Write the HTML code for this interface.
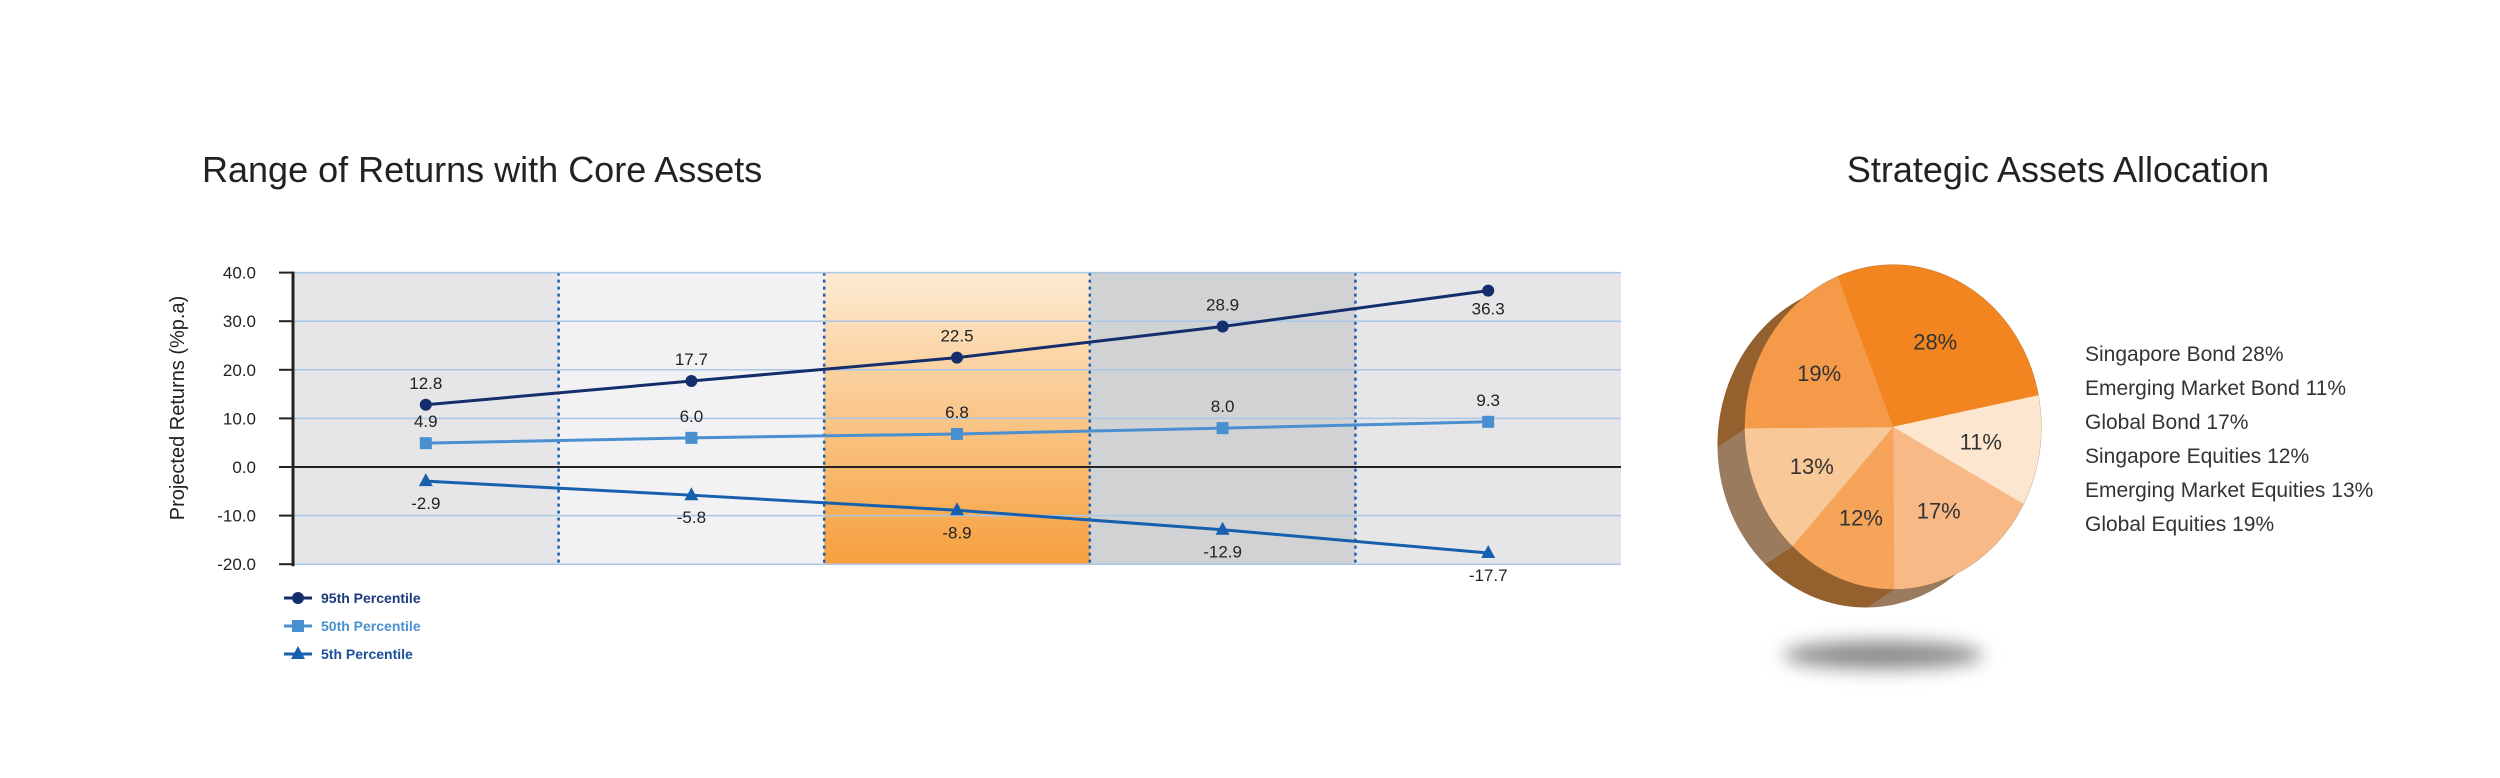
<!DOCTYPE html>
<html><head><meta charset="utf-8"><style>
body{margin:0;background:#fff;width:2500px;height:778px;overflow:hidden;font-family:"Liberation Sans",sans-serif}
svg{display:block}
</style></head><body>
<svg id="chart" width="2500" height="778" xmlns="http://www.w3.org/2000/svg">
<defs>
<linearGradient id="og" x1="0" y1="0" x2="0" y2="1"><stop offset="0" stop-color="#fdebd2"/><stop offset="1" stop-color="#f6a03e"/></linearGradient>
<filter id="blur" x="-50%" y="-200%" width="200%" height="500%"><feGaussianBlur stdDeviation="9"/></filter>
</defs>
<text x="202" y="182" font-size="36" fill="#222">Range of Returns with Core Assets</text>
<text x="2058" y="182" font-size="36" fill="#222" text-anchor="middle">Strategic Assets Allocation</text>
<g id="bg"></g><g id="grid"></g><g id="axes"></g><g id="series"></g><g id="legend"></g>
<g id="pie"></g>
</svg>
<script>
const categories = ["Period 1","Period 2","Period 3","Period 4","Period 5"];
const p95 = [12.8,17.7,22.5,28.9,36.3];
const p50 = [4.9,6.0,6.8,8.0,9.3];
const p5 = [-2.9,-5.8,-8.9,-12.9,-17.7];
const yTicks = [40,30,20,10,0,-10,-20];
const sliceLabels = ["Singapore Bond","Emerging Market Bond","Global Bond","Singapore Equities","Emerging Market Equities","Global Equities"];
const sliceValues = [28,11,17,12,13,19];

const NS="http://www.w3.org/2000/svg";
function mk(tag,attrs,parent,txt){const e=document.createElementNS(NS,tag);for(const k in attrs)e.setAttribute(k,attrs[k]);if(txt!==undefined)e.textContent=txt;parent.appendChild(e);return e;}
const X0=293,X1=1621,colW=(X1-X0)/categories.length;
const y=v=>467-v*4.86;
const x=i=>X0+colW*(i+0.5);
const bgC=["#e6e6e8","#f2f2f4","url(#og)","#d1d2d4","#e6e6e8"];
const gBg=document.getElementById('bg'),gGrid=document.getElementById('grid'),gAx=document.getElementById('axes'),gS=document.getElementById('series'),gL=document.getElementById('legend');
categories.forEach((c,i)=>{
 const r=mk('rect',{x:X0+colW*i,y:y(40),width:colW,height:y(-20)-y(40),fill:bgC[i]},gBg);
 
 
 if(i>0){const l=mk('line',{x1:X0+colW*i,x2:X0+colW*i,y1:y(40),y2:y(-20),stroke:'#1d5ca8','stroke-width':2.5,'stroke-dasharray':'3,4'},gBg);
 
 }
});
yTicks.forEach(t=>{
 const l=mk('line',{x1:X0,x2:X1,y1:y(t),y2:y(t),stroke:t===0?'#222':'#a9c8e8','stroke-width':t===0?2:1.5},gGrid);
 
 
 mk('line',{x1:279,x2:X0,y1:y(t),y2:y(t),stroke:'#222','stroke-width':2},gAx);
 const tx=mk('text',{x:256,y:y(t)+6,'font-size':17,'text-anchor':'end',fill:'#222'},gAx,t.toFixed(1));
 
 
});
mk('line',{x1:X0,x2:X0,y1:y(40)-1,y2:y(-20)+2,stroke:'#222','stroke-width':3},gAx);
const yt=mk('text',{x:0,y:0,'font-size':20,'text-anchor':'middle',fill:'#222',transform:'translate(184,408) rotate(-90)'},gAx,'Projected Returns (%p.a)');


function marker(type,cx,cy,col,g){
 if(type==='c')return mk('circle',{cx,cy,r:6,fill:col},g);
 if(type==='s')return mk('rect',{x:cx-6,y:cy-6,width:12,height:12,fill:col},g);
 return mk('polygon',{points:`${cx},${cy-8} ${cx+7},${cy+5} ${cx-7},${cy+5}`,fill:col},g);
}
const series=[{d:p95,c:'#142e6b',m:'c',n:'95th Percentile',tc:'#1b3a7a',lab:i=>i===4?24:-16},
 {d:p50,c:'#4a8fd0',m:'s',n:'50th Percentile',tc:'#4a8fd0',lab:i=>-16},
 {d:p5,c:'#1760ad',m:'t',n:'5th Percentile',tc:'#1a4f9a',lab:i=>28}];
series.forEach((s,si)=>{
 const pl=mk('polyline',{points:s.d.map((v,i)=>x(i)+','+y(v)).join(' '),fill:'none',stroke:s.c,'stroke-width':3},gS);
 
 
 s.d.forEach((v,i)=>{
  const m=marker(s.m,x(i),y(v),s.c,gS);
  
  
  const t=mk('text',{x:x(i),y:y(v)+s.lab(i),'font-size':17,'text-anchor':'middle',fill:'#222'},gS,v.toFixed(1));
  
  
 });
 const ly=598+si*28;
 mk('line',{x1:284,x2:312,y1:ly,y2:ly,stroke:s.c,'stroke-width':3},gL);
 marker(s.m,298,ly,s.c,gL);
 const lt=mk('text',{x:321,y:ly+5,'font-size':14,'font-weight':'bold',fill:s.tc},gL,s.n);
 
 
});
// pie
const gP=document.getElementById('pie');
const cx=1893,cy=427,rx=148,ry=162,dx=-27,dy=18;
const faceC=['#f28520','#fde6d0','#f8b986','#f5a45a','#f9c899','#f49a48'];
const sideC=['#93602e','#9b7b5e','#9b7b5e','#93602e','#9b7b5e','#93602e'];
const sh=mk('ellipse',{cx:1883,cy:655,rx:100,ry:14,fill:'#8a8a8a',filter:'url(#blur)'},gP);


const total=sliceValues.reduce((a,b)=>a+b,0);
const pt=(a,ox,oy)=>[cx+ox+rx*Math.sin(a),cy+oy-ry*Math.cos(a)];
let start=-22*Math.PI/180;const angs=[];
sliceValues.forEach(v=>{const e=start+v/total*2*Math.PI;angs.push([start,e]);start=e;});
const gSide=mk('g',{},gP),gFace=mk('g',{},gP);
angs.forEach(([a0,a1],i)=>{
 const n=40,f=[],b=[];
 for(let k=0;k<=n;k++){const a=a0+(a1-a0)*k/n;f.push(pt(a,0,0));b.push(pt(a,dx,dy));}
 const sp=mk('polygon',{points:f.concat(b.reverse()).map(p=>p.join(',')).join(' '),fill:sideC[i],stroke:sideC[i],'stroke-width':1},gSide);
 
 
 const fp=mk('polygon',{points:[[cx,cy]].concat(f).map(p=>p.join(',')).join(' '),fill:faceC[i],stroke:faceC[i],'stroke-width':0.5},gFace);
 
 
 const mid=(a0+a1)/2,lp=[cx+rx*0.6*Math.sin(mid),cy-ry*0.6*Math.cos(mid)];
 const tl=mk('text',{x:lp[0],y:lp[1]+8,'font-size':22,'text-anchor':'middle',fill:'#333'},gFace,sliceValues[i]+'%');
 
 
 const lg=mk('text',{x:2085,y:361+i*34,'font-size':21,fill:'#333'},gP,sliceLabels[i]+' '+sliceValues[i]+'%');
 
 
});
</script>
</body></html>
